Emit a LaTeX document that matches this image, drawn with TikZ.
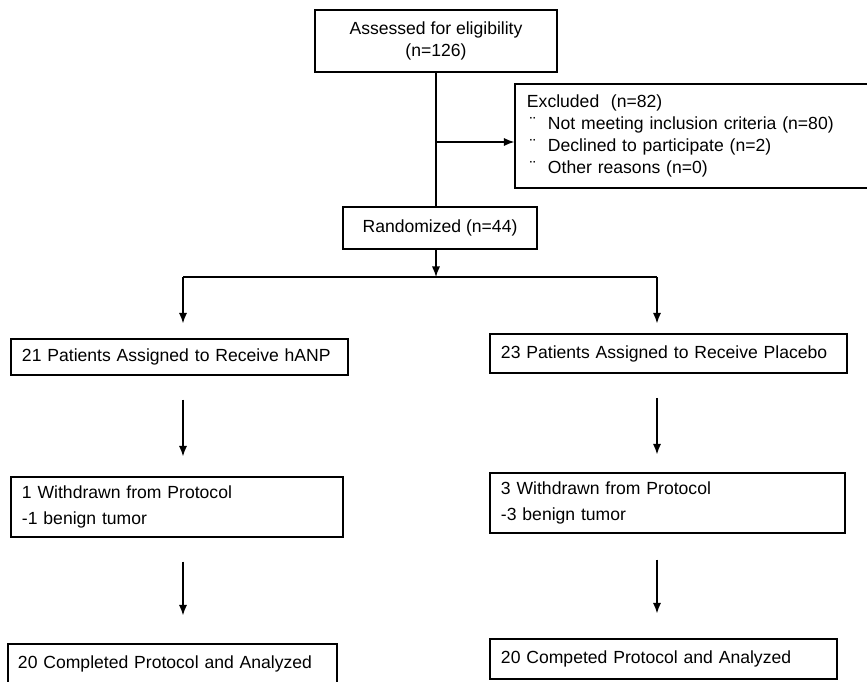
\documentclass[tikz,border=0pt]{standalone}
\usepackage{fontspec}
\setmainfont{Liberation Sans}
\usetikzlibrary{arrows.meta}

\tikzset{
  box/.style={draw, rectangle, line width=1.1pt, inner xsep=0.33cm, inner ysep=0pt, align=left, font=\fontsize{15}{18}\selectfont},
  conn/.style={line width=1.1pt},
  arr/.style={conn, -{Latex[length=9pt,width=7pt]}}
}
\newcommand{\exclitem}[1]{\makebox[0.63cm][l]{\hspace{0.09cm}¨}#1}

\begin{document}
\begin{tikzpicture}[x=0.03cm, y=-0.03cm]
  \useasboundingbox (0,0) rectangle (867,682);
  \clip (0,0) rectangle (867,682);

  % top of the chart
  \node[box, align=center, minimum width=7.26cm, minimum height=1.86cm, font=\fontsize{15}{19.5}\selectfont] (assess) at (436,41) {Assessed for eligibility\\(n=126)};
  \node[box, inner xsep=0.36cm, text width=10.23cm, minimum height=3.12cm, font=\fontsize{15}{19}\selectfont] (excl) at (697.5,136) {\rule{0pt}{0.2cm}Excluded~~(n=82)\\
    \exclitem{Not meeting inclusion criteria (n=80)}\\
    \exclitem{Declined to participate (n=2)}\\
    \exclitem{Other reasons (n=0)}};
  \node[box, align=center, minimum width=5.82cm, minimum height=1.26cm] (rand) at (440,228) {Randomized (n=44)};

  % the two arms
  \node[box, text width=9.45cm, minimum height=1.08cm] (lpat) at (179.5,357) {21 Patients Assigned to Receive hANP};
  \node[box, text width=10.05cm, minimum height=1.17cm] (rpat) at (668.5,353.5) {23 Patients Assigned to Receive Placebo};
  \node[box, text width=9.3cm, minimum height=1.8cm, font=\fontsize{15}{21.5}\selectfont] (lwd) at (177,507) {1 Withdrawn from Protocol\\-1 benign tumor};
  \node[box, text width=9.99cm, minimum height=1.8cm, font=\fontsize{15}{21.5}\selectfont] (rwd) at (667.5,503) {3 Withdrawn from Protocol\\-3 benign tumor};
  \node[box, inner xsep=0.3cm, text width=9.27cm, minimum height=1.2cm] (lcomp) at (172.5,664) {20 Completed Protocol and Analyzed};
  \node[box, text width=9.75cm, minimum height=1.2cm] (rcomp) at (663.5,659) {20 Competed Protocol and Analyzed};

  \coordinate (exarr) at (436,142);
  \coordinate (split) at (436,277);
  \coordinate (lsplit) at (183,277);
  \coordinate (rsplit) at (657,277);

  \draw[conn] (assess.south) -- (assess.south |- rand.north);
  \draw[arr] (exarr) -- (exarr -| excl.west);
  \draw[arr] (assess.south |- rand.south) -- (split);
  \draw[conn] (lsplit) -- (rsplit);
  \draw[arr, shorten >=0.45cm] (lsplit) -- (lsplit |- lpat.north);
  \draw[arr, shorten >=0.3cm] (rsplit) -- (rsplit |- rpat.north);
  \draw[arr, shorten <=0.72cm, shorten >=0.6cm] (lpat.south -| lsplit) -- (lwd.north -| lsplit);
  \draw[arr, shorten <=0.73cm, shorten >=0.54cm] (rpat.south -| rsplit) -- (rwd.north -| rsplit);
  \draw[arr, shorten <=0.72cm, shorten >=0.84cm] (lwd.south -| lsplit) -- (lcomp.north -| lsplit);
  \draw[arr, shorten <=0.78cm, shorten >=0.75cm] (rwd.south -| rsplit) -- (rcomp.north -| rsplit);
\end{tikzpicture}
\end{document}
